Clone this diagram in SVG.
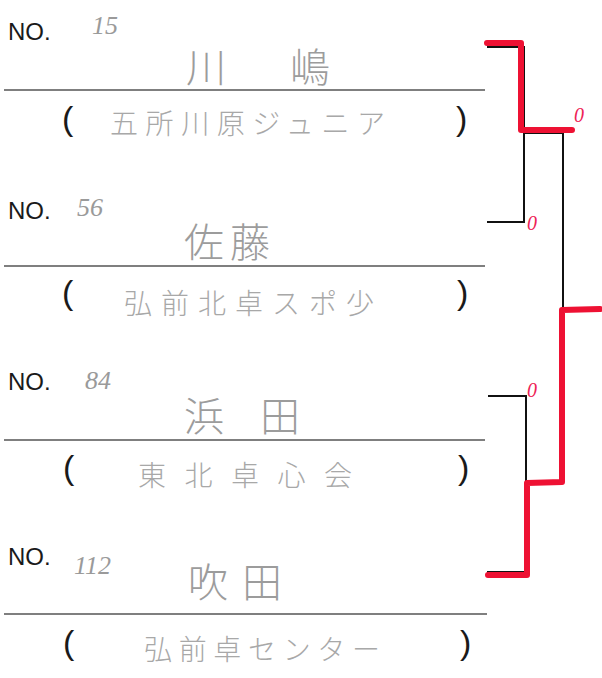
<svg xmlns="http://www.w3.org/2000/svg" width="602" height="678" viewBox="0 0 602 678">
<style>
.no{font-family:"Liberation Sans",Arial,sans-serif;font-size:24px;fill:#1a1a1a}
.num{font-family:"Liberation Serif",serif;font-style:italic;font-size:26px;fill:#9a9a9a}
.name{font-family:"Noto Sans CJK JP",sans-serif;font-size:40px;fill:#9c9c9c;font-weight:300}
.aff{font-family:"Noto Sans CJK JP",sans-serif;font-size:28px;fill:#a8a8a8;font-weight:300}
.par{font-family:"Liberation Sans",Arial,sans-serif;font-size:34px;fill:#1a1a1a;font-weight:300}
.rule{stroke:#555;stroke-width:1.5;fill:none}
.blk{stroke:#111;stroke-width:2;fill:none}
.red{stroke:#ee1133;stroke-width:6;fill:none;stroke-linejoin:round;stroke-linecap:round}
.mark{font-family:"Liberation Serif",serif;font-style:italic;font-size:20px;fill:#ee2255}
</style>
<rect width="602" height="678" fill="#fff"/>
<g id="entry1">
<text class="no" x="8" y="40">NO.</text>
<text class="num" x="92" y="34">15</text>
<text class="name" x="186" y="82" textLength="144" lengthAdjust="spacing">川嶋</text>
<line class="rule" x1="4" y1="90" x2="485" y2="90"/>
<text class="par" x="62" y="130">(</text>
<text class="aff" x="110" y="134" textLength="275" lengthAdjust="spacing">五所川原ジュニア</text>
<text class="par" x="456" y="130">)</text>
</g>
<g id="entry2">
<text class="no" x="8" y="219">NO.</text>
<text class="num" x="77" y="216">56</text>
<text class="name" x="184" y="257" textLength="86" lengthAdjust="spacing">佐藤</text>
<line class="rule" x1="4" y1="266" x2="485" y2="266"/>
<text class="par" x="62" y="304">(</text>
<text class="aff" x="124" y="314" textLength="250" lengthAdjust="spacing">弘前北卓スポ少</text>
<text class="par" x="457" y="304">)</text>
</g>
<g id="entry3">
<text class="no" x="8" y="390">NO.</text>
<text class="num" x="85" y="389">84</text>
<text class="name" x="184" y="431" textLength="116" lengthAdjust="spacing">浜田</text>
<line class="rule" x1="4" y1="440" x2="485" y2="440"/>
<text class="par" x="63" y="479">(</text>
<text class="aff" x="138" y="486" textLength="214" lengthAdjust="spacing">東北卓心会</text>
<text class="par" x="458" y="479">)</text>
</g>
<g id="entry4">
<text class="no" x="8" y="565">NO.</text>
<text class="num" x="74" y="574">112</text>
<text class="name" x="188" y="597" textLength="94" lengthAdjust="spacing">吹田</text>
<line class="rule" x1="4" y1="614" x2="487" y2="614"/>
<text class="par" x="63" y="654">(</text>
<text class="aff" x="144" y="660" textLength="236" lengthAdjust="spacing">弘前卓センター</text>
<text class="par" x="460" y="654">)</text>
</g>
<g id="connectors">
<polyline class="blk" points="487,47 524,47 524,222 487,222"/>
<line class="blk" x1="524" y1="133" x2="563" y2="133"/>
<polyline class="blk" points="488,396 526,396 526,572 487,572"/>
<line class="blk" x1="526" y1="483" x2="564" y2="483"/>
<line class="blk" x1="563" y1="133" x2="563" y2="483"/>
<line class="blk" x1="563" y1="309" x2="602" y2="309"/>
<polyline class="red" points="487,43 521,43 521,130 572,130"/>
<polyline class="red" points="488,575 527,575 527,483 562,482 562,310 600,309"/>
<text class="mark" x="574" y="122">0</text>
<text class="mark" x="527" y="230">0</text>
<text class="mark" x="527" y="397">0</text>
</g>
</svg>
